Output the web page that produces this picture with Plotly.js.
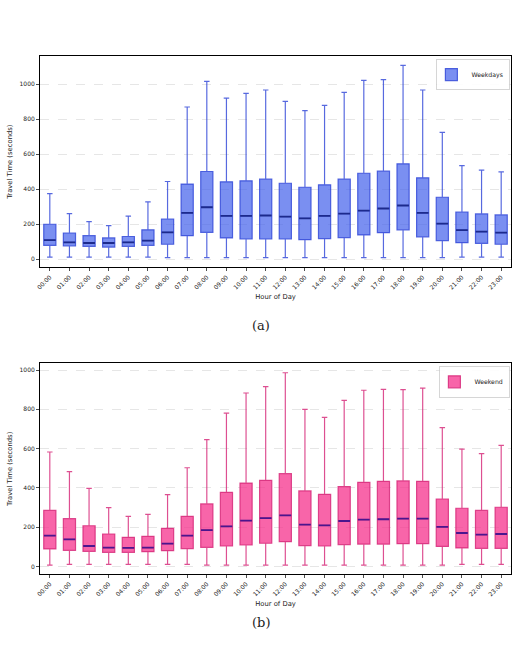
<!DOCTYPE html>
<html>
<head>
<meta charset="utf-8">
<script src="https://cdn.plot.ly/plotly-3.0.1.min.js"></script>
<style>
  html, body { margin: 0; padding: 0; background: #fff; }
  #chart { width: 518px; height: 651px; }
</style>
</head>
<body>
<div id="chart"></div>
<script>
// Hour-of-day categories
const hours = ["00:00","01:00","02:00","03:00","04:00","05:00","06:00","07:00","08:00","09:00","10:00","11:00",
               "12:00","13:00","14:00","15:00","16:00","17:00","18:00","19:00","20:00","21:00","22:00","23:00"];

// Weekday travel-time distribution (seconds)
const wdLow  = [13,13,13,13,13,13,10,10,10,10,10,10,10,10,10,10,10,10,10,10,10,13,13,13];
const wdQ1   = [80,76,74,70,74,80,86,135,154,122,116,116,116,112,118,124,139,152,168,128,107,95,91,86];
const wdMed  = [110,97,93,93,97,107,154,265,297,248,248,250,244,234,248,261,278,290,307,265,204,166,158,152];
const wdQ3   = [200,150,135,122,130,168,230,429,501,442,448,457,434,411,425,457,491,503,545,465,354,270,259,253];
const wdHigh = [375,261,215,192,246,328,444,869,1015,920,947,966,901,848,878,952,1021,1025,1107,966,724,535,509,499];

// Weekend travel-time distribution (seconds)
const weLow  = [8,12,12,12,12,12,12,12,8,8,8,8,8,8,8,8,8,8,8,8,8,12,12,12];
const weQ1   = [90,83,78,73,73,76,81,92,98,105,110,119,127,107,105,112,115,115,117,117,103,95,93,93];
const weMed  = [158,139,105,97,95,97,117,158,186,205,234,247,261,214,210,232,239,241,244,244,202,171,163,166];
const weQ3   = [286,244,208,166,149,154,195,256,319,378,425,439,473,385,368,407,429,434,436,434,344,297,286,302];
const weHigh = [583,483,398,300,256,266,366,503,646,781,883,915,986,800,759,846,897,902,900,908,707,598,575,617];

const tickFont = { family: "DejaVu Sans", size: 6, color: "#222" };
const titleFont = { family: "DejaVu Sans", size: 6.8, color: "#222" };

function boxTrace(name, low, q1, med, q3, high, fill, line, xa, ya, legend) {
  return {
    type: "box", name: name, x: hours,
    lowerfence: low, q1: q1, median: med, q3: q3, upperfence: high,
    fillcolor: fill, line: { color: line, width: 1.2 },
    width: 0.62, whiskerwidth: 0.45,
    xaxis: xa, yaxis: ya, legend: legend, hoverinfo: "skip"
  };
}
// median bars drawn on top of each box in a darker shade
function medianTrace(med, color, xa, ya) {
  return {
    type: "scatter", mode: "markers", x: hours, y: med,
    marker: { symbol: "line-ew", size: 8.4, line: { color: color, width: 1.8 } },
    xaxis: xa, yaxis: ya, showlegend: false, hoverinfo: "skip"
  };
}

const data = [
  boxTrace("Weekdays", wdLow, wdQ1, wdMed, wdQ3, wdHigh, "rgba(65,95,235,0.7)", "rgba(45,68,215,0.8)", "x", "y", "legend"),
  medianTrace(wdMed, "#1c2a8c", "x", "y"),
  boxTrace("Weekend", weLow, weQ1, weMed, weQ3, weHigh, "rgba(245,50,140,0.75)", "rgba(212,35,118,0.8)", "x2", "y2", "legend2"),
  medianTrace(weMed, "#4a168e", "x2", "y2")
];

function xAxis(anchor) {
  return {
    anchor: anchor, domain: [0, 1], type: "category", range: [-0.5, 23.5],
    tickangle: -45, tickfont: tickFont, ticks: "outside", ticklen: 3, tickwidth: 0.8,
    tickcolor: "#222", showline: true, linecolor: "#000", linewidth: 1, mirror: true,
    showgrid: false, zeroline: false,
    title: { text: "Hour of Day", font: titleFont, standoff: 4 }
  };
}
function yAxis(anchor, domain, range) {
  return {
    anchor: anchor, domain: domain, range: range,
    tickvals: [0, 200, 400, 600, 800, 1000], tickfont: tickFont,
    ticks: "outside", ticklen: 3, tickwidth: 0.8, tickcolor: "#222",
    showline: true, linecolor: "#000", linewidth: 1, mirror: true,
    showgrid: true, gridcolor: "#dcdcdc", gridwidth: 0.7, griddash: "dash",
    zeroline: false,
    title: { text: "Travel Time (seconds)", font: titleFont, standoff: 6 }
  };
}

const legendStyle = {
  xanchor: "right", yanchor: "top", bgcolor: "rgba(255,255,255,0.9)",
  bordercolor: "#ccc", borderwidth: 0.8,
  font: { family: "DejaVu Sans", size: 6.2, color: "#222" },
  itemwidth: 30, tracegroupgap: 0, indentation: -6
};

const layout = {
  width: 518, height: 651,
  margin: { l: 40, r: 7, t: 0, b: 0 },
  paper_bgcolor: "#fff", plot_bgcolor: "#fff",
  showlegend: true,
  xaxis: xAxis("y"),
  yaxis: yAxis("x", [0.5893, 0.914], [-46, 1160]),
  xaxis2: xAxis("y2"),
  yaxis2: yAxis("x2", [0.1178, 0.4419], [-39, 1034]),
  legend: Object.assign({ x: 0.997, y: 0.909 }, legendStyle),
  legend2: Object.assign({ x: 0.997, y: 0.437 }, legendStyle),
  annotations: [
    { text: "(a)", xref: "paper", yref: "paper", x: 0.47, y: 1 - 325 / 651,
      showarrow: false, font: { family: "DejaVu Serif", size: 13, color: "#222" } },
    { text: "(b)", xref: "paper", yref: "paper", x: 0.47, y: 1 - 632 / 651,
      showarrow: false, font: { family: "DejaVu Serif", size: 13, color: "#222" } }
  ]
};

Plotly.newPlot("chart", data, layout, { displayModeBar: false, staticPlot: true });
</script>
</body>
</html>
